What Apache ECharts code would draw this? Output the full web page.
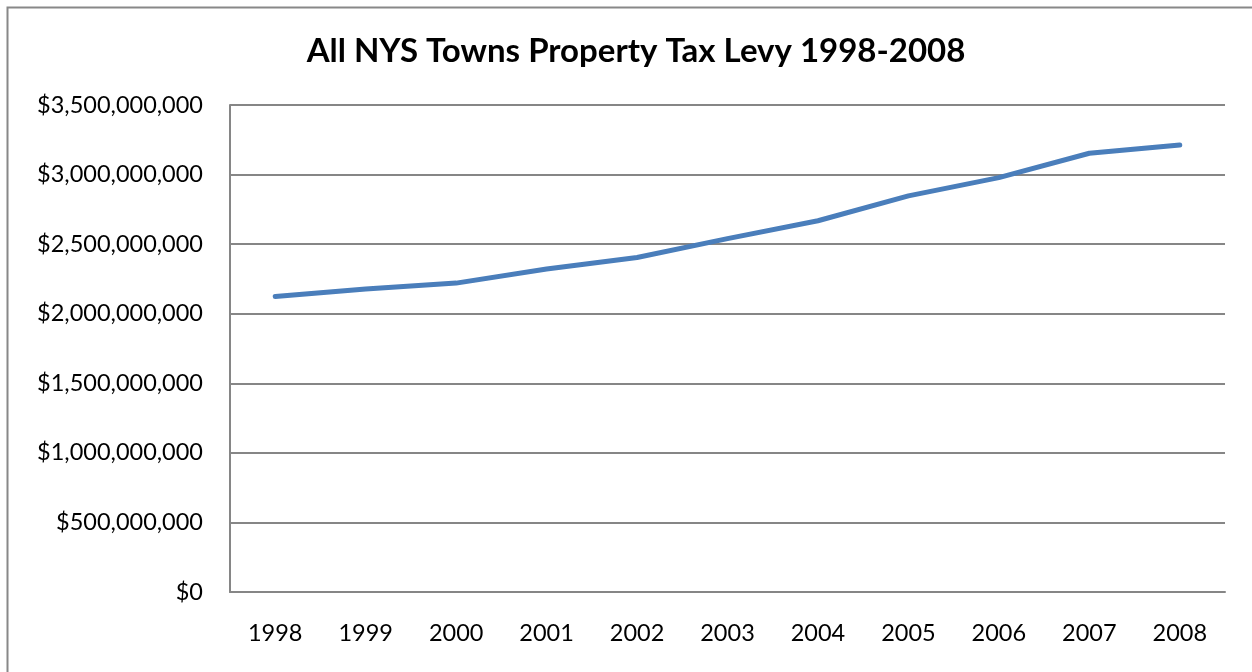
<!DOCTYPE html>
<html>
<head>
<meta charset="utf-8">
<script src="https://cdn.jsdelivr.net/npm/echarts@6/dist/echarts.min.js"></script>
<style>
html,body{margin:0;padding:0;background:#fff;}
#chart{width:1252px;height:672px;}
</style>
</head>
<body>
<div id="chart"></div>
<script>
const years = ['1998','1999','2000','2001','2002','2003','2004','2005','2006','2007','2008'];
const levy = [2124000000, 2177000000, 2220000000, 2321000000, 2404000000, 2540000000, 2668000000, 2847000000, 2978000000, 3153000000, 3212000000];
const titleText = 'All NYS Towns Property Tax Levy 1998-2008';

const chart = echarts.init(document.getElementById('chart'));
const fmt = v => '$' + Math.round(v).toString().replace(/\B(?=(\d{3})+(?!\d))/g, ',');
chart.setOption({
  animation: false,
  backgroundColor: '#fff',
  graphic: [{
    type: 'rect',
    shape: {x: 7.5, y: 7.5, width: 1300, height: 700},
    style: {fill: 'none', stroke: '#888', lineWidth: 2},
    silent: true
  }],
  title: {
    text: titleText,
    left: 631, top: 30, textAlign: 'center',
    textStyle: {fontFamily: 'Lato', fontWeight: 'bold', fontSize: 33, color: '#000'}
  },
  grid: {left: 230, right: 27, top: 105, bottom: 80},
  xAxis: {
    type: 'category',
    data: years,
    boundaryGap: true,
    axisLine: {show: true, lineStyle: {color: '#868686', width: 2}},
    axisTick: {show: false},
    axisLabel: {fontFamily: 'Lato', fontSize: 23.5, color: '#000', margin: 29}
  },
  yAxis: {
    type: 'value',
    min: 0, max: 3500000000, interval: 500000000,
    axisLine: {show: true, lineStyle: {color: '#868686', width: 2}},
    axisTick: {show: false},
    splitLine: {lineStyle: {color: '#868686', width: 2}},
    axisLabel: {fontFamily: 'Lato', fontSize: 23.5, color: '#000', margin: 27, formatter: fmt}
  },
  series: [{
    type: 'line',
    data: levy,
    showSymbol: false,
    lineStyle: {color: '#4a7ebb', width: 5, cap: 'round', join: 'round'},
    itemStyle: {color: '#4a7ebb'}
  }]
});
</script>
</body>
</html>
